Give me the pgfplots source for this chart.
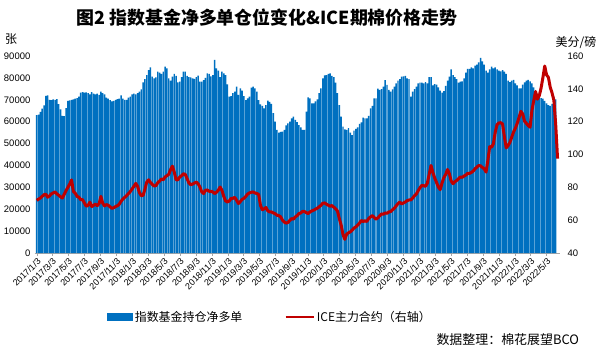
\documentclass[border=0pt]{standalone}
\usepackage{fontspec}
\setmainfont{Liberation Sans}
\newfontfamily\cjk{Noto Sans CJK SC}
\usepackage{pgfplots}
\pgfplotsset{compat=1.18}
\usepackage{pgfplotstable}
\definecolor{barblue}{RGB}{0,112,192}
\definecolor{icered}{RGB}{192,0,0}

\pgfplotstableread[row sep=\\]{
b\\
63000\\ 63200\\ 64500\\ 66000\\ 67500\\ 71800\\ 72000\\ 70000\\ 69800\\ 70200\\
70000\\ 70300\\ 68000\\ 65600\\ 62700\\ 62500\\ 66200\\ 69500\\ 69700\\ 70000\\
70200\\ 70500\\ 70800\\ 71500\\ 73300\\ 73500\\ 73300\\ 73400\\ 73000\\ 72500\\
73500\\ 72800\\ 72500\\ 72800\\ 72300\\ 73700\\ 73000\\ 72500\\ 71000\\ 70500\\
69900\\ 69300\\ 69500\\ 70000\\ 70300\\ 70500\\ 72000\\ 70500\\ 70000\\ 70000\\
71000\\ 71500\\ 72500\\ 72800\\ 72500\\ 73000\\ 73700\\ 74800\\ 78000\\ 79400\\
81300\\ 83600\\ 84800\\ 80600\\ 79800\\ 80200\\ 82900\\ 82400\\ 81800\\ 82900\\
85100\\ 84400\\ 79800\\ 78700\\ 80600\\ 81800\\ 80900\\ 78000\\ 78300\\ 80300\\
82900\\ 82900\\ 80900\\ 80300\\ 80200\\ 79800\\ 79500\\ 80300\\ 81000\\ 78300\\
78300\\ 79000\\ 80000\\ 82100\\ 81800\\ 80700\\ 81300\\ 88200\\ 84400\\ 83300\\
80300\\ 82900\\ 82100\\ 81300\\ 77000\\ 71400\\ 71700\\ 73000\\ 73700\\ 76000\\
72200\\ 75200\\ 74200\\ 71700\\ 69900\\ 70700\\ 71400\\ 75600\\ 76000\\ 75200\\
73700\\ 69900\\ 67900\\ 67200\\ 66100\\ 67600\\ 69600\\ 69000\\ 68100\\ 63900\\
60000\\ 56200\\ 55000\\ 55300\\ 55400\\ 56200\\ 58300\\ 59200\\ 60000\\ 61500\\
62300\\ 60800\\ 59800\\ 58400\\ 57400\\ 56200\\ 56200\\ 64600\\ 71100\\ 70700\\
68400\\ 68400\\ 69300\\ 70200\\ 73000\\ 75200\\ 79800\\ 81200\\ 81300\\ 81800\\
82100\\ 80900\\ 80300\\ 77800\\ 73000\\ 67600\\ 62300\\ 57700\\ 56500\\ 56200\\
57000\\ 55000\\ 53900\\ 55900\\ 56700\\ 57400\\ 59000\\ 59700\\ 61800\\ 61500\\
61500\\ 62600\\ 66100\\ 67200\\ 70700\\ 70700\\ 75100\\ 74500\\ 74900\\ 76000\\
79000\\ 76800\\ 74500\\ 73700\\ 74800\\ 76000\\ 77500\\ 78800\\ 79400\\ 80600\\
80700\\ 80900\\ 79800\\ 79400\\ 71400\\ 73700\\ 74900\\ 76000\\ 77500\\ 77800\\
77800\\ 77500\\ 78100\\ 77500\\ 80300\\ 80300\\ 76600\\ 77200\\ 76900\\ 75700\\
74200\\ 73300\\ 73900\\ 76300\\ 78800\\ 80600\\ 83900\\ 81300\\ 80300\\ 79400\\
77800\\ 78300\\ 78400\\ 79800\\ 82400\\ 84100\\ 84100\\ 84800\\ 84400\\ 85600\\
86100\\ 87100\\ 89100\\ 87600\\ 86100\\ 83300\\ 82400\\ 83900\\ 85100\\ 84400\\
84800\\ 83900\\ 83300\\ 83000\\ 83600\\ 82900\\ 81800\\ 78800\\ 78100\\ 78800\\
79100\\ 77500\\ 76600\\ 75200\\ 75200\\ 76900\\ 78000\\ 78800\\ 79100\\ 78400\\
77500\\ 75700\\ 73700\\ 72800\\ 72200\\ 70800\\ 70500\\ 69500\\ 68400\\ 67600\\
67200\\ 68100\\ 71400\\ 70200\\
}\bars

\pgfplotstableread[row sep=\\]{
p\\
72.1\\ 72.8\\ 73.5\\ 74.5\\ 75.5\\ 75.8\\ 74.0\\ 74.8\\ 76.0\\ 76.6\\
77.2\\ 76.0\\ 75.2\\ 74.2\\ 73.5\\ 75.8\\ 78.0\\ 80.0\\ 82.0\\ 84.5\\
77.5\\ 76.5\\ 74.5\\ 74.0\\ 72.5\\ 72.5\\ 70.5\\ 68.5\\ 69.0\\ 71.0\\
68.3\\ 69.0\\ 69.8\\ 68.8\\ 70.0\\ 74.5\\ 70.3\\ 68.7\\ 69.5\\ 69.1\\
68.1\\ 67.2\\ 67.6\\ 68.3\\ 68.8\\ 69.7\\ 71.5\\ 72.9\\ 73.9\\ 74.9\\
76.2\\ 77.4\\ 79.0\\ 80.6\\ 82.4\\ 80.6\\ 76.8\\ 74.9\\ 75.1\\ 78.8\\
83.2\\ 84.6\\ 83.0\\ 81.8\\ 80.8\\ 81.0\\ 82.8\\ 83.8\\ 85.1\\ 84.6\\
86.3\\ 87.1\\ 87.9\\ 90.9\\ 92.9\\ 89.3\\ 84.6\\ 84.6\\ 86.3\\ 87.1\\
88.3\\ 87.9\\ 85.3\\ 82.6\\ 81.6\\ 82.0\\ 82.6\\ 83.2\\ 82.2\\ 80.2\\
77.2\\ 76.2\\ 78.2\\ 78.4\\ 77.6\\ 77.6\\ 77.2\\ 76.2\\ 77.0\\ 78.2\\
80.2\\ 78.2\\ 74.5\\ 71.7\\ 71.1\\ 71.7\\ 73.3\\ 73.3\\ 73.9\\ 72.1\\
70.1\\ 71.3\\ 72.7\\ 73.3\\ 74.5\\ 75.9\\ 76.6\\ 77.0\\ 77.2\\ 76.6\\
76.2\\ 75.8\\ 69.1\\ 66.3\\ 66.9\\ 67.7\\ 65.7\\ 65.0\\ 65.0\\ 64.4\\
64.0\\ 63.0\\ 62.8\\ 62.0\\ 60.0\\ 58.8\\ 58.2\\ 58.6\\ 59.8\\ 61.0\\
60.6\\ 62.0\\ 62.8\\ 64.0\\ 64.4\\ 65.4\\ 65.2\\ 64.6\\ 64.0\\ 65.0\\
65.6\\ 66.1\\ 66.7\\ 67.3\\ 68.1\\ 69.1\\ 70.3\\ 70.5\\ 69.7\\ 69.1\\
68.5\\ 68.9\\ 67.9\\ 66.9\\ 65.6\\ 61.0\\ 57.0\\ 51.3\\ 48.3\\ 51.5\\
52.3\\ 52.9\\ 53.9\\ 55.2\\ 55.9\\ 57.0\\ 58.2\\ 59.8\\ 59.2\\ 59.6\\
59.2\\ 61.0\\ 62.0\\ 62.8\\ 61.6\\ 60.6\\ 61.4\\ 62.6\\ 63.8\\ 63.6\\
64.4\\ 64.2\\ 65.0\\ 65.2\\ 66.3\\ 67.3\\ 68.7\\ 70.1\\ 71.1\\ 69.9\\
70.5\\ 71.1\\ 71.9\\ 72.3\\ 72.3\\ 73.5\\ 74.9\\ 75.9\\ 78.0\\ 79.8\\
81.2\\ 81.0\\ 80.6\\ 82.6\\ 87.9\\ 93.3\\ 89.1\\ 85.7\\ 83.0\\ 80.2\\
78.6\\ 82.6\\ 85.9\\ 87.9\\ 90.9\\ 88.3\\ 83.8\\ 82.2\\ 83.4\\ 84.2\\
85.3\\ 86.3\\ 86.1\\ 86.9\\ 87.5\\ 88.5\\ 88.5\\ 89.1\\ 89.9\\ 91.3\\
92.3\\ 93.3\\ 93.1\\ 92.1\\ 91.3\\ 89.3\\ 96.4\\ 104.8\\ 104.4\\ 106.5\\
113.5\\ 118.2\\ 119.2\\ 119.4\\ 118.6\\ 110.9\\ 104.0\\ 105.4\\ 107.3\\ 110.5\\
113.7\\ 116.0\\ 119.0\\ 122.6\\ 126.3\\ 124.7\\ 120.2\\ 119.0\\ 117.6\\ 116.6\\
126.7\\ 132.7\\ 138.4\\ 133.7\\ 135.7\\ 140.4\\ 146.8\\ 153.9\\ 148.5\\ 147.0\\
141.0\\ 137.5\\ 133.0\\ 118.0\\ 97.5\\
}\prices

\begin{document}
\begin{tikzpicture}[x=1bp,y=1bp]
\path[use as bounding box] (0,0) rectangle (600,357);

\begin{axis}[
  at={(34.5bp,104bp)}, anchor=south west,
  scale only axis, width=525.8bp, height=197bp,
  xmin=-1.2, xmax=285.5, ymin=0, ymax=90000,
  axis x line*=bottom, axis y line*=left,
  x axis line style={draw=gray!70,-},
  y axis line style={draw=none},
  xtick={0,8.43,17.14,25.86,34.71,43.43,52.14,60.57,69.29,78,86.86,95.57,104.29,112.71,121.43,130.14,139,147.71,156.43,165,173.71,182.43,191.29,200,208.71,217.14,225.86,234.57,243.43,252.14,260.86,269.29,278},
  xticklabels={2017/1/3,2017/3/3,2017/5/3,2017/7/3,2017/9/3,2017/11/3,2018/1/3,2018/3/3,2018/5/3,2018/7/3,2018/9/3,2018/11/3,2019/1/3,2019/3/3,2019/5/3,2019/7/3,2019/9/3,2019/11/3,2020/1/3,2020/3/3,2020/5/3,2020/7/3,2020/9/3,2020/11/3,2021/1/3,2021/3/3,2021/5/3,2021/7/3,2021/9/3,2021/11/3,2022/1/3,2022/3/3,2022/5/3},
  xtick style={draw=gray!70},
  x tick label style={rotate=45, anchor=north east, inner sep=1bp, font=\fontsize{9}{10}\selectfont},
  major tick length=3bp, tick align=outside,
  ytick={0,10000,20000,30000,40000,50000,60000,70000,80000,90000},
  ytick style={draw=none},
  scaled y ticks=false,
  y tick label style={/pgf/number format/fixed, /pgf/number format/set thousands separator={}, font=\fontsize{9.5}{11}\selectfont, inner sep=1bp},
  /pgf/number format/assume math mode=true,
]
\addplot[ybar, bar width=0.8, fill=barblue, draw=none] table[x expr=\coordindex, y=b] {\bars};
\end{axis}

\begin{axis}[
  at={(34.5bp,104bp)}, anchor=south west,
  scale only axis, width=525.8bp, height=197bp,
  xmin=-1.2, xmax=285.5, ymin=40, ymax=160,
  axis x line=none, axis y line*=right,
  y axis line style={draw=none},
  ytick={40,60,80,100,120,140,160},
  ytick style={draw=none},
  y tick label style={font=\fontsize{9.5}{11}\selectfont, inner sep=1bp, xshift=6bp},
  /pgf/number format/assume math mode=true,
  legend style={at={(0.448,-0.325)}, anchor=center, draw=none, fill=none,
    font=\cjk\fontsize{12}{14}\selectfont,
    /tikz/every even column/.append style={column sep=40bp}},
  legend columns=2,
]
\addlegendimage{legend image code/.code={\fill[barblue] (0bp,-3.5bp) rectangle (25bp,3.5bp);}}
\addlegendentry{指数基金持仓净多单}
\addplot[icered, line width=3bp, line join=round,
  legend image code/.code={\draw[icered, line width=2.5bp] (0bp,0bp) -- (28bp,0bp);}]
  table[x expr=\coordindex, y=p] {\prices};
\addlegendentry{ICE主力合约（右轴）}
\end{axis}

\node[font=\cjk\bfseries\fontsize{18}{20}\selectfont] at (267,339) {图2 指数基金净多单仓位变化\&ICE期棉价格走势};
\node[font=\cjk\fontsize{12}{14}\selectfont] at (11,318) {张};
\node[font=\cjk\fontsize{12}{14}\selectfont] at (576,314) {美分/磅};
\node[font=\cjk\fontsize{13}{15}\selectfont, anchor=west] at (433,17) {数据整理：棉花展望BCO};
\end{tikzpicture}
\end{document}
